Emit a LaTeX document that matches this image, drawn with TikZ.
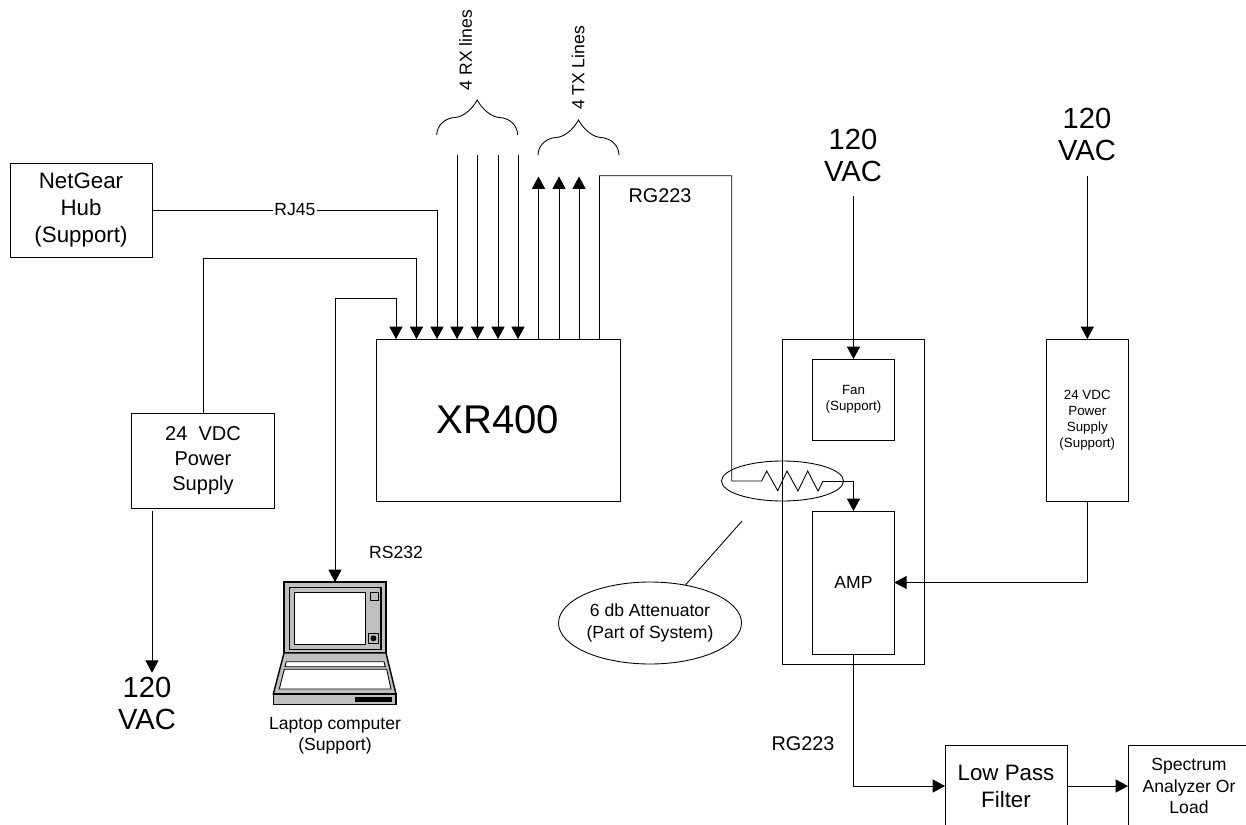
\documentclass[tikz,border=0pt]{standalone}
\usepackage{fontspec}
\setmainfont{Liberation Sans}
\usetikzlibrary{arrows.meta,shapes.geometric}
\tikzset{
    sysbox/.style={draw,rectangle,inner sep=0pt,outer sep=0pt,align=center},
    sysring/.style={draw,ellipse,inner sep=0pt,outer sep=0pt,align=center},
    txtbig/.style={font=\fontsize{16.6}{18.2}\selectfont},
    txtmed/.style={font=\fontsize{12.7}{15.4}\selectfont},
    txtpsu/.style={font=\fontsize{11.4}{14.2}\selectfont},
    txtnorm/.style={font=\fontsize{10}{12.3}\selectfont},
    txtsmall/.style={font=\fontsize{7.6}{9.2}\selectfont},
    sig/.style={-{Triangle[length=7pt,width=7.4pt]}},
    sigboth/.style={{Triangle[length=7pt,width=7.4pt]}-{Triangle[length=7pt,width=7.4pt]}},
    lapgrey/.style={draw,line width=0.8pt,fill=black!25},
}
\begin{document}
    \begin{tikzpicture}[x=0.02cm,y=-0.02cm,line width=0.5pt]
        \useasboundingbox (0,0) rectangle (1246,824);
        \clip (0,0) rectangle (1246,824);

        \node[sysbox,txtmed,minimum width=2.84cm,minimum height=1.88cm] (hub) at (81,210) {NetGear\\Hub\\(Support)};
        \node[sysbox,txtpsu,minimum width=2.85cm,minimum height=1.89cm] (power) at (203,460.7) {24~~VDC\\Power\\Supply};
        \node[sysbox,font=\fontsize{22.8}{26}\selectfont,minimum width=4.88cm,minimum height=3.24cm] (xr) at (498,420) {XR400};
        \node[sysbox,minimum width=2.84cm,minimum height=6.5cm] (rack) at (853.5,501.5) {};
        \node[sysbox,txtsmall,minimum width=1.63cm,minimum height=1.62cm] (fan) at (853.5,399.5) {Fan\\(Support)};
        \node[sysbox,txtnorm,minimum width=1.63cm,minimum height=2.86cm] (amp) at (853.5,582.5) {AMP};
        \node[sysbox,txtsmall,minimum width=1.63cm,minimum height=3.24cm] (fanpsu) at (1087.3,420) {24 VDC\\Power\\Supply\\(Support)};
        \node[sysbox,txtmed,minimum width=2.44cm,minimum height=1.64cm] (lpf) at (1006,786) {Low Pass\\Filter};
        \node[sysbox,txtnorm,minimum width=2.44cm,minimum height=1.64cm] (load) at (1189,786) {Spectrum\\Analyzer Or\\Load};

        \node[sysring,minimum width=2.44cm,minimum height=0.8cm] (attring) at (782.5,481) {};
        \node[sysring,txtnorm,minimum width=3.66cm,minimum height=1.64cm] (attnote) at (650,623) {6 db Attenuator\\(Part of System)};

        \node[txtbig,align=center] (acfan) at (853,155) {120\\VAC};
        \node[txtbig,align=center] (acpsu) at (1087,134) {120\\VAC};
        \node[txtbig,align=center] (acmain) at (147,703) {120\\VAC};
        \node[txtnorm,rotate=90] (rxlabel) at (465.7,50) {4 RX lines};
        \node[txtnorm,rotate=90] (txlabel) at (578,68) {4 TX Lines};
        \node[font=\fontsize{11.3}{13}\selectfont] (rgtoplabel) at (660,196) {RG223};
        \node[font=\fontsize{11.3}{13}\selectfont] (rgamplabel) at (803,744) {RG223};
        \node[txtnorm] (rslabel) at (396,552) {RS232};

        \foreach \n/\x in {0/396,1/416.5,2/437,3/457,4/477.5,5/498,6/518}
            \coordinate (in\n) at (\x,339);
        \foreach \n/\x in {0/538.5,1/559,2/579,3/599.5}
            \coordinate (out\n) at (\x,339);

        \foreach \n in {3,4,5,6}
            \draw[sig] (in\n |- 0,155) -- (in\n);
        \foreach \n in {0,1,2}
            \draw[sig] (out\n) -- (out\n |- 0,176.5);

        \foreach \x/\y in {436.7/135,538/155}{
            \begin{scope}[shift={(\x,\y)}]
                \draw (0,0) .. controls (0.3,-10) and (8.3,-17) .. (18.3,-17.5)
                    .. controls (26,-18) and (35,-25) .. (40.5,-35)
                    .. controls (46,-25) and (55,-18) .. (62.7,-17.5)
                    .. controls (72.7,-17) and (80.7,-10) .. (81,0);
            \end{scope}
        }

        \coordinate (hubdrop) at (in2 |- hub.east);
        \coordinate (powertop) at (416.5,258);
        \coordinate (laptop) at (335,298);
        \coordinate (rgtop) at (731.7,175.7);
        \coordinate (attin) at (731.7,481);
        \coordinate (attout) at (823,481);
        \coordinate (psufeed) at (152,511);
        \coordinate (psuend) at (152,672.7);
        \coordinate (fanfeed) at (853.5,196);
        \coordinate (psuinfeed) at (1087.3,176);
        \coordinate (noteend) at (742,521);

        \draw[sig] (hub.east) -- (hubdrop) -- (in2);
        \draw[sig] (power.north) |- (powertop) -- (in1);
        \draw[sig] (psufeed) -- (psuend);
        \draw[sig] (fanfeed) -- (fan.north);
        \draw[sig] (psuinfeed) -- (fanpsu.north);
        \draw[sig] (fanpsu.south) |- (amp.east);
        \draw[sig] (amp.south) |- (lpf.west);
        \draw[sig] (lpf.east) -- (load.west);
        \draw (attnote.47) -- (noteend);

        \draw (out3) |- (rgtop) -- (attin) -- (761.7,481) -- (766.7,471) -- (777.7,490.7) -- (787,471)
            -- (798,491) -- (807.7,471) -- (818,491) -- (attout);
        \draw[sig] (attout) -| (amp.north);

        \node[lapgrey,rectangle,inner sep=0pt,outer sep=0pt,minimum width=2.04cm,minimum height=1.42cm] (lid) at (335,617.5) {};
        \draw[sigboth] (lid.north) |- (laptop) -| (in0);
        \draw[lapgrey,line width=0.6pt] (289.3,587.3) rectangle (381,649.3);
        \draw[fill=white] (294.3,592.7) rectangle (365.7,644);
        \draw[fill=black!25] (370.3,592.7) rectangle (378.3,600.7);
        \draw[fill=black!25] (368.7,633.3) rectangle (378.3,643.3);
        \fill (373.4,638.3) circle (3);
        \draw[lapgrey] (284,653) -- (386,653) -- (396,694) -- (273.3,694) -- cycle;
        \draw[fill=white] (286.3,661.7) -- (384,661.7) -- (385.3,666.7) -- (285,666.7) -- cycle;
        \draw[fill=white] (284.3,669.3) -- (386.7,669.3) -- (391,689) -- (279.3,689) -- cycle;
        \draw[lapgrey] (273.3,694) rectangle (396,704.7);
        \fill (355,697) rectangle (391.7,702.3);
        \node[align=center,font=\fontsize{10}{12}\selectfont] (laplabel) at (335,736) {Laptop computer\\(Support)};

        \node[fill=white,inner sep=1pt,txtnorm] (rjlabel) at (295,210) {RJ45};
    \end{tikzpicture}
\end{document}
